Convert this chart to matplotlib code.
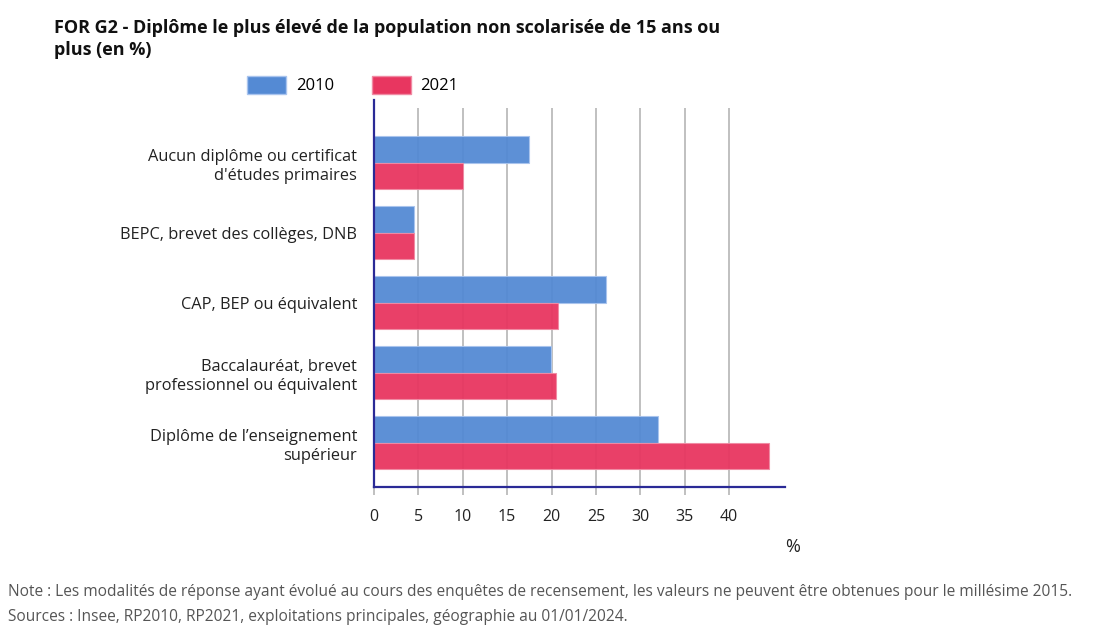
import matplotlib
matplotlib.use('Agg')
import matplotlib.pyplot as plt
from matplotlib.patches import Patch

plt.rcParams['font.family'] = ['Open Sans', 'DejaVu Sans']

# data
categories = ["Aucun diplôme ou certificat\nd'études primaires",
              "BEPC, brevet des collèges, DNB",
              "CAP, BEP ou équivalent",
              "Baccalauréat, brevet\nprofessionnel ou équivalent",
              "Diplôme de l’enseignement\nsupérieur"]
v2010 = [17.5, 4.5, 26.1, 19.9, 32.0]
v2021 = [10.0, 4.5, 20.7, 20.5, 44.5]
xticks = [0, 5, 10, 15, 20, 25, 30, 35, 40]

blue = '#548ad4'
red = '#e83660'
navy = '#2a2a96'

W, H = 1120, 626
fig = plt.figure(figsize=(W / 100, H / 100), dpi=100)
ax = fig.add_axes([374 / W, 1 - 487 / H, 411 / W, 387 / H])

h = 0.38
y = list(range(len(categories)))
ytop = -0.786
ybot = 4.63

# gridlines
ax.vlines(xticks[1:], ytop, ybot, color='#b5b5b5', lw=1.2, zorder=1)

ax.barh([i - h / 2 for i in y], v2010, height=h, color=blue, alpha=0.95,
        edgecolor='#a9c4ee', lw=0.8, zorder=2)
ax.barh([i + h / 2 for i in y], v2021, height=h, color=red, alpha=0.95,
        edgecolor='#f08aa3', lw=0.8, zorder=2)

ax.set_xlim(0, 46.3)
ax.set_ylim(ybot, -0.896)

for s in ['top', 'right']:
    ax.spines[s].set_visible(False)
for s in ['left', 'bottom']:
    ax.spines[s].set_color(navy)
    ax.spines[s].set_linewidth(1.6)
    ax.spines[s].set_zorder(3)

ax.set_xticks(xticks)
ax.set_xticklabels([str(t) for t in xticks], fontsize=11.5, color='#222222')
ax.tick_params(axis='x', length=6, width=1.2, color='#b5b5b5', pad=10)

ax.set_yticks(y)
ax.set_yticklabels(categories, fontsize=11.8, color='#222222', linespacing=1.25)
ax.tick_params(axis='y', length=0, pad=12)

fig.text(793 / W, 1 - 547 / H, '%', fontsize=13, color='#222222',
         ha='center', va='center')

# title
fig.text(54 / W, 1 - 39 / H,
         'FOR G2 - Diplôme le plus élevé de la population non scolarisée de 15 ans ou\nplus (en %)',
         fontsize=13, fontweight='bold', color='#111111', ha='left', va='center',
         linespacing=1.3)

# legend
handles = [Patch(facecolor=blue, edgecolor='#a9c4ee', label='2010'),
           Patch(facecolor=red, edgecolor='#f08aa3', label='2021')]
fig.legend(handles=handles, loc='center', bbox_to_anchor=(353 / W, 1 - 85 / H),
           ncol=2, frameon=False, fontsize=12, handlelength=2.3, handleheight=1.3,
           columnspacing=2.3, handletextpad=0.6)

# notes
fig.text(8 / W, 1 - 592 / H,
         'Note : Les modalités de réponse ayant évolué au cours des enquêtes de recensement, les valeurs ne peuvent être obtenues pour le millésime 2015.',
         fontsize=11.2, color='#555555', ha='left', va='center')
fig.text(8 / W, 1 - 617 / H,
         'Sources : Insee, RP2010, RP2021, exploitations principales, géographie au 01/01/2024.',
         fontsize=11.2, color='#555555', ha='left', va='center')

fig.savefig('out.png', dpi=100, facecolor='white')
